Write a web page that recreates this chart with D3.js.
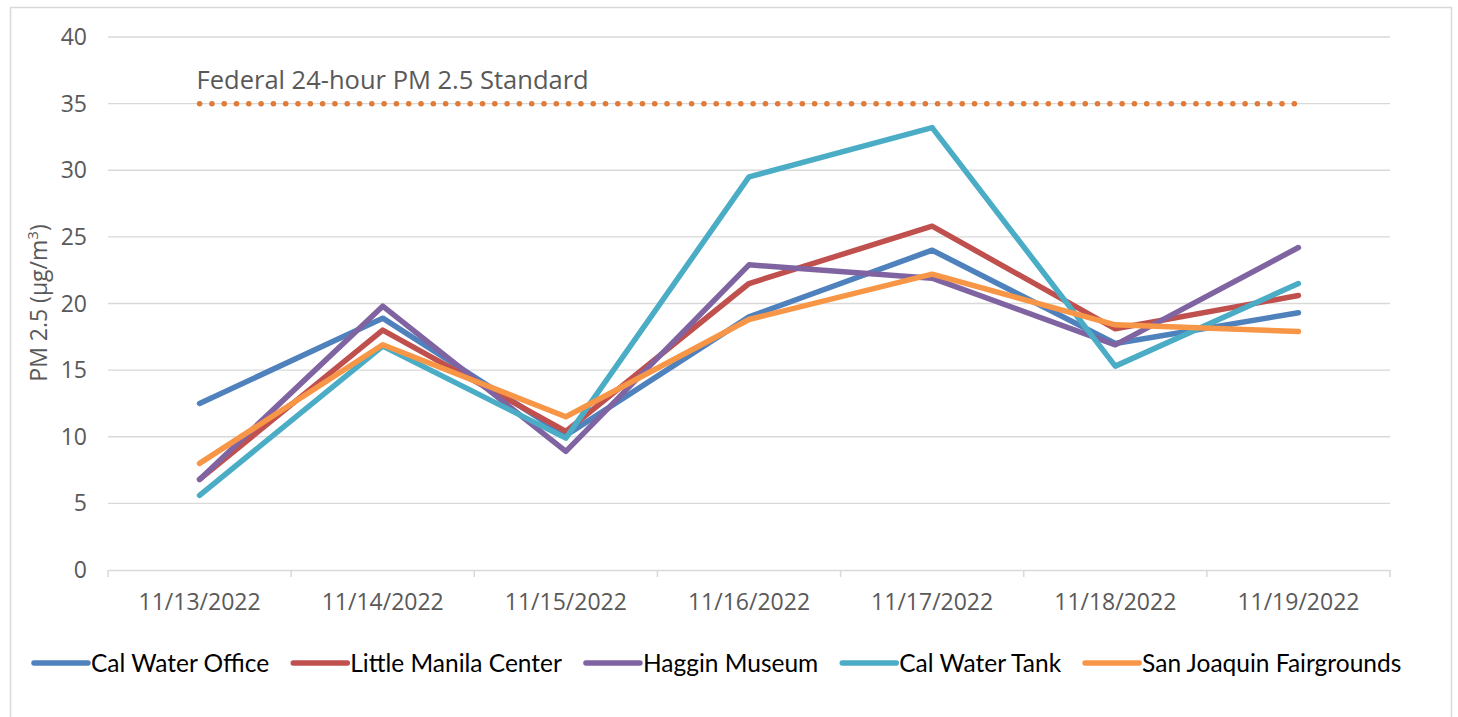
<!DOCTYPE html>
<html>
<head>
<meta charset="utf-8">
<script src="https://cdn.jsdelivr.net/npm/d3@7"></script>
<style>
    body{ margin:0; background:#fff; }
    .chart text{ font-family: "Open Sans", sans-serif; }
    .grid line{ stroke:#d9d9d9; stroke-width:1.3px; }
    .tick-label{ fill:#595959; font-size:23px; }
    .series{ fill:none; stroke-width:5.5px; stroke-linejoin:round; stroke-linecap:round; }
    .chart .legend text{ fill:#000; font-size:24.5px; font-family: Lato, sans-serif; }
</style>
</head>
<body>
<div id="container"></div>
<script>
    var dates = ["11/13/2022","11/14/2022","11/15/2022","11/16/2022","11/17/2022","11/18/2022","11/19/2022"];
    var yTicks = [0,5,10,15,20,25,30,35,40];

    var calWaterOffice   = [12.5, 18.9, 10.1, 19.0, 24.0, 17.0, 19.3];
    var littleManila     = [6.8, 18.0, 10.4, 21.5, 25.8, 18.1, 20.6];
    var hagginMuseum     = [6.8, 19.8, 8.9, 22.9, 21.9, 16.9, 24.2];
    var calWaterTank     = [5.6, 16.8, 9.9, 29.5, 33.2, 15.3, 21.5];
    var sjFairgrounds    = [8.0, 16.9, 11.5, 18.8, 22.2, 18.4, 17.9];

    var standardValue = 35;
    var standardLabel = "Federal 24-hour PM 2.5 Standard";

    var seriesNames  = ["Cal Water Office","Little Manila Center","Haggin Museum","Cal Water Tank","San Joaquin Fairgrounds"];
    var seriesValues = [calWaterOffice, littleManila, hagginMuseum, calWaterTank, sjFairgrounds];
    var seriesColors = ["#4F81BD","#C0504D","#8064A2","#4BACC6","#F79646"];

    drawChart();

    function drawChart(){
        var W = 1458, H = 717;
        var pLeft = 108, pRight = 1390, pTop = 37, pBottom = 570;

        var svg = d3.select("#container").append("svg")
            .attr("class","chart")
            .attr("width", W).attr("height", H);

        // outer frame
        svg.append("rect")
            .attr("x", 10.5).attr("y", 7.5)
            .attr("width", 1441).attr("height", 720)
            .attr("fill","none").attr("stroke","#d9d9d9").attr("stroke-width",1.5);

        var x = d3.scaleBand().domain(dates).range([pLeft, pRight]);
        var y = d3.scaleLinear().domain([0, 40]).range([pBottom, pTop]);
        var cx = function(d){ return x(d) + x.bandwidth()/2; };

        // gridlines
        svg.append("g").attr("class","grid")
            .selectAll("line").data(yTicks.filter(function(d){ return d > 0; }))
            .enter().append("line")
            .attr("x1", pLeft).attr("x2", pRight)
            .attr("y1", function(d){ return y(d); })
            .attr("y2", function(d){ return y(d); });

        // y axis labels
        svg.append("g").selectAll("text").data(yTicks)
            .enter().append("text")
            .attr("class","tick-label")
            .attr("x", 87)
            .attr("y", function(d){ return y(d); })
            .attr("dy", "0.35em")
            .attr("text-anchor","end")
            .text(function(d){ return d; });

        // x axis
        var xAxis = svg.append("g")
            .attr("transform", "translate(0," + pBottom + ")")
            .call(d3.axisBottom(x).tickSize(0).tickPadding(0));
        xAxis.select(".domain").attr("stroke","#d9d9d9").attr("stroke-width",1.5);
        xAxis.selectAll(".tick").remove();
        var bounds = dates.map(function(d){ return x(d); }).concat([pRight]);
        xAxis.selectAll(".bound").data(bounds).enter().append("line")
            .attr("x1", function(d){ return d; }).attr("x2", function(d){ return d; })
            .attr("y1", 0).attr("y2", 7)
            .attr("stroke","#d9d9d9").attr("stroke-width",1.5);
        svg.append("g").selectAll("text").data(dates)
            .enter().append("text")
            .attr("class","tick-label")
            .attr("x", function(d){ return cx(d); })
            .attr("y", 602)
            .attr("dy","0.35em")
            .attr("text-anchor","middle")
            .text(function(d){ return d; });

        // y axis title
        var yt = svg.append("text")
            .attr("class","tick-label")
            .attr("font-size","24px")
            .attr("transform","translate(47," + 303 + ") rotate(-90)")
            .attr("text-anchor","middle");
        yt.append("tspan").text("PM 2.5 (µg/m");
        yt.append("tspan").attr("dy","-9").attr("font-size","15px").text("3");
        yt.append("tspan").attr("dy","9").text(")");

        // standard line (dotted)
        svg.append("line")
            .attr("x1", cx(dates[0])).attr("x2", cx(dates[dates.length-1]))
            .attr("y1", y(standardValue)).attr("y2", y(standardValue))
            .attr("stroke","#E07B39").attr("stroke-width",5.5)
            .attr("stroke-linecap","round")
            .attr("stroke-dasharray","0.1 12.2");
        svg.append("text")
            .attr("x", cx(dates[0]) - 3)
            .attr("y", y(standardValue) - 15)
            .attr("fill","#595959")
            .attr("font-size","25.5px")
            .text(standardLabel);

        // series
        var line = d3.line()
            .x(function(d, i){ return cx(dates[i]); })
            .y(function(d){ return y(d); });

        svg.append("g").selectAll("path").data(seriesValues)
            .enter().append("path")
            .attr("class","series")
            .attr("stroke", function(d, i){ return seriesColors[i]; })
            .attr("d", line);

        // legend
        var legend = svg.append("g").attr("class","legend");
        var lx = 34, ly = 663;
        seriesNames.forEach(function(name, i){
            var g = legend.append("g");
            g.append("line")
                .attr("x1", lx).attr("x2", lx + 54)
                .attr("y1", ly).attr("y2", ly)
                .attr("stroke", seriesColors[i]).attr("stroke-width",5.5)
                .attr("stroke-linecap","round");
            var t = g.append("text")
                .attr("x", lx + 57).attr("y", ly)
                .attr("dy","0.35em")
                .text(name);
            lx = lx + 57 + t.node().getComputedTextLength() + 24;
        });
    }
</script>
</body>
</html>
